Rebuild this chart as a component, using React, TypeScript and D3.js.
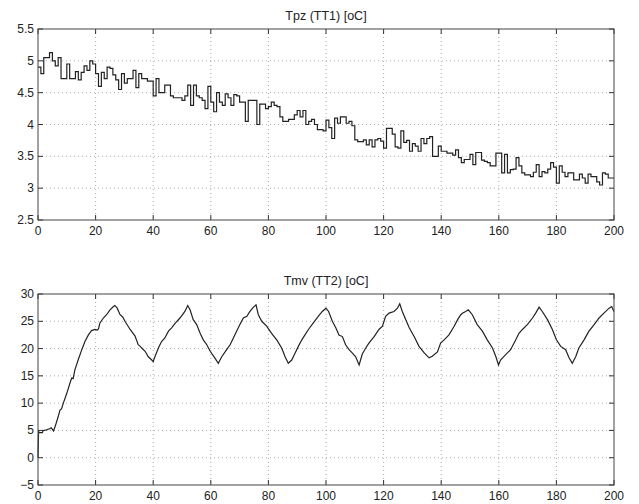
import React from "react";
import * as d3 from "d3";

// Tpz (TT1): step level held for each second, t = 0..199
const tpzLevels = [
  4.9, 4.8, 5.05, 5.05, 5.13, 5.0, 4.92, 5.05, 4.72, 4.72,
  4.95, 4.72, 4.72, 4.83, 4.7, 4.82, 4.92, 4.85, 5.0, 4.95,
  4.8, 4.6, 4.82, 4.72, 4.9, 4.88, 4.78, 4.7, 4.55, 4.8,
  4.65, 4.72, 4.72, 4.85, 4.58, 4.8, 4.72, 4.72, 4.68, 4.68,
  4.45, 4.72, 4.5, 4.5, 4.62, 4.62, 4.45, 4.42, 4.42, 4.42,
  4.38, 4.45, 4.62, 4.3, 4.62, 4.45, 4.42, 4.38, 4.25, 4.6,
  4.35, 4.2, 4.5, 4.35, 4.3, 4.48, 4.42, 4.3, 4.47, 4.45,
  4.35, 4.35, 4.05, 4.38, 4.38, 4.38, 4.0, 4.32, 4.32, 4.25,
  4.28, 4.35, 4.3, 4.28, 4.12, 4.05, 4.05, 4.08, 4.08, 4.15,
  4.22, 4.12, 4.22, 4.0, 4.05, 4.08, 4.0, 3.92, 3.92, 3.9,
  4.07, 3.95, 3.78, 4.1, 4.02, 4.12, 4.12, 4.02, 4.05, 3.98,
  3.76, 3.73, 3.73, 3.76, 3.68, 3.76, 3.65, 3.76, 3.78, 3.74,
  3.63, 3.94, 3.94, 3.85, 3.65, 3.63, 3.9, 3.72, 3.75, 3.58,
  3.7, 3.66, 3.58, 3.78, 3.7, 3.78, 3.81, 3.5, 3.5, 3.66,
  3.58, 3.58, 3.55, 3.55, 3.52, 3.6, 3.48, 3.4, 3.45, 3.45,
  3.53, 3.37, 3.56, 3.56, 3.44, 3.42, 3.4, 3.35, 3.35, 3.55,
  3.55, 3.24, 3.53, 3.24, 3.29, 3.3, 3.48, 3.35, 3.24, 3.21,
  3.21, 3.18, 3.25, 3.37, 3.18, 3.26, 3.24, 3.3, 3.4, 3.33,
  3.08, 3.35, 3.25, 3.18, 3.24, 3.24, 3.13, 3.13, 3.22, 3.16,
  3.08, 3.22, 3.18, 3.18, 3.1, 3.05, 3.24, 3.22, 3.16, 3.16,
];

// Tmv (TT2): read points [time, value]
const tmvPoints: [number, number][] = [
  [0, 0], [0.2, 4.8], [0.6, 4.6], [1.5, 4.6], [1.8, 5.0], [3, 5.1], [4, 5.3], [4.6, 5.5],
  [5, 5.2], [5.4, 4.9], [6, 5.8], [7, 7.5], [7.6, 8.7], [8.2, 9.0], [8.8, 10], [10, 11.8],
  [11.1, 13.7], [11.7, 14.6], [12.2, 14.5], [12.8, 16.1], [14, 18], [15.2, 19.8], [16.3, 21.3],
  [17.5, 22.5], [18.6, 23.3], [19.8, 23.5], [20.5, 23.4], [21, 23.6], [21.5, 24.7], [22.7, 25.6],
  [23.8, 26.2], [25, 27.1], [26.2, 27.7], [26.7, 27.9], [27.5, 27.4], [28.5, 26.2], [29.4, 25.8],
  [30.2, 25], [32, 23.5], [33.7, 22.3], [34.8, 20.7], [35.5, 20.4], [36, 20.1], [37.2, 19.5],
  [38.3, 18.5], [39.5, 17.9], [40, 17.6], [40.6, 18.5], [41.8, 20.1], [42.9, 21.3], [44, 21.9],
  [45.3, 23.2], [46.4, 23.8], [47.6, 24.6], [49.3, 25.6], [51, 26.8], [52, 27.9], [52.8, 27.1],
  [53.9, 25.3], [55.1, 24.4], [56.3, 22.8], [57.4, 21.6], [58.6, 20.7], [59.8, 19.5], [61.5, 18.2],
  [62.6, 17.3], [63.8, 18.5], [65.5, 19.8], [66.7, 20.7], [67.8, 21.9], [69, 23.2], [70.1, 24.4],
  [71.3, 25.6], [72.5, 25.9], [73.6, 26.8], [74.8, 27.6], [75.7, 28.0], [76.5, 26.2], [77.7, 25],
  [79.4, 24.1], [81.1, 22.8], [82.9, 21.6], [84.6, 20.1], [85.8, 18.5], [86.9, 17.3], [88.1, 17.9],
  [89.2, 19.1], [90.4, 20.4], [91.6, 21.6], [92.7, 22.5], [93.9, 23.5], [95.6, 24.7], [97.3, 25.9],
  [98.7, 26.8], [100, 27.4], [100.9, 26.8], [102.2, 25], [103.4, 23.8], [104.5, 22.5], [105.7, 22.2],
  [106.8, 20.7], [108, 19.8], [109.1, 19.2], [110.3, 18.5], [111.5, 17.0], [112.6, 19.0], [113.8, 20.1],
  [114.9, 21], [116.7, 22.2], [118.4, 23.5], [119.6, 24.1], [120.7, 25.9], [121.9, 26.5], [123.6, 26.8],
  [124.8, 27.4], [125.6, 28.2], [126.5, 26.8], [127.7, 25.3], [128.9, 23.8], [130.6, 22.2], [132.3, 20.4],
  [134.1, 19.2], [135.8, 18.3], [136.9, 18.6], [138.7, 19.4], [139.8, 21], [141, 21.6], [142.7, 22.5],
  [144.5, 24.1], [145.7, 25.3], [146.8, 26.2], [147.5, 26.5], [148.5, 26.8], [149.4, 27.1], [150.8, 26.2],
  [152.5, 24.4], [154.3, 23.2], [156, 21.6], [157.8, 20.1], [159, 18.5], [159.9, 17.0], [160.6, 17.9],
  [162.4, 18.9], [164.1, 19.8], [165.9, 21.6], [167, 22.8], [168.2, 23.5], [169.9, 24.4], [171.7, 25.6],
  [172.8, 26.5], [174, 27.6], [175.1, 26.8], [176.9, 25.3], [178.6, 23.5], [180, 21.6], [181.5, 20.4],
  [183.2, 19.8], [184.4, 18.3], [185.5, 17.3], [186.7, 18.5], [187.8, 20.1], [189.6, 21.6], [191.3, 23.2],
  [193.1, 24.4], [194.8, 25.6], [196.5, 26.5], [198.3, 27.4], [199.2, 27.7], [200, 26.8],
];

const xTicks = [0, 20, 40, 60, 80, 100, 120, 140, 160, 180, 200];
const tpzTicks = [2.5, 3, 3.5, 4, 4.5, 5, 5.5];
const tmvTicks = [-5, 0, 5, 10, 15, 20, 25, 30];

const W = 639;
const H = 504;
const left = 38;
const right = 614;
const font = "'Liberation Sans', Arial, sans-serif";

type PanelProps = {
  title: string;
  top: number;
  bottom: number;
  yDomain: [number, number];
  yTicks: number[];
  points: [number, number][];
  step: boolean;
};

const Panel = ({ title, top, bottom, yDomain, yTicks, points, step }: PanelProps) => {
  const x = d3.scaleLinear().domain([0, 200]).range([left, right]);
  const y = d3.scaleLinear().domain(yDomain).range([bottom, top]);
  const line = d3
    .line<[number, number]>()
    .x((d) => x(d[0]))
    .y((d) => y(d[1]))
    .curve(step ? d3.curveStepAfter : d3.curveLinear);
  const tick = 5;
  const fmt = (v: number) => (v < 0 ? "\u2212" + Math.abs(v) : String(v));

  return (
    <g>
      <text x={(left + right) / 2} y={top - 9} textAnchor="middle" fontSize={12.5} fontFamily={font} fill="#222">
        {title}
      </text>
      {/* grid */}
      {xTicks.slice(1, -1).map((t) => (
        <line key={"gx" + t} x1={x(t)} x2={x(t)} y1={top} y2={bottom} stroke="#999" strokeWidth={0.8} strokeDasharray="1,3" />
      ))}
      {yTicks.slice(1, -1).map((t) => (
        <line key={"gy" + t} x1={left} x2={right} y1={y(t)} y2={y(t)} stroke="#999" strokeWidth={0.8} strokeDasharray="1,3" />
      ))}
      {/* ticks, inward on all sides */}
      {xTicks.map((t) => (
        <g key={"tx" + t}>
          <line x1={x(t)} x2={x(t)} y1={bottom} y2={bottom - tick} stroke="#333" />
          <line x1={x(t)} x2={x(t)} y1={top} y2={top + tick} stroke="#333" />
          <text x={x(t)} y={bottom + 15} textAnchor="middle" fontSize={12} fontFamily={font} fill="#222">
            {t}
          </text>
        </g>
      ))}
      {yTicks.map((t) => (
        <g key={"ty" + t}>
          <line x1={left} x2={left + tick} y1={y(t)} y2={y(t)} stroke="#333" />
          <line x1={right} x2={right - tick} y1={y(t)} y2={y(t)} stroke="#333" />
          <text x={left - 4} y={y(t) + 4} textAnchor="end" fontSize={12} fontFamily={font} fill="#222">
            {fmt(t)}
          </text>
        </g>
      ))}
      <path d={line(points) ?? ""} fill="none" stroke="#222" strokeWidth={1.2} />
      <rect x={left} y={top} width={right - left} height={bottom - top} fill="none" stroke="#444" strokeWidth={1} />
    </g>
  );
};

const App = () => {
  const tpzPoints: [number, number][] = tpzLevels.map((v, i) => [i, v] as [number, number]);
  tpzPoints.push([200, tpzLevels[tpzLevels.length - 1]]);

  return (
    <svg width={W} height={H} style={{ position: "absolute", left: 0, top: 0, background: "#fff" }}>
      <rect width={W} height={H} fill="#fff" />
      <Panel title="Tpz (TT1) [oC]" top={29} bottom={220} yDomain={[2.5, 5.5]} yTicks={tpzTicks} points={tpzPoints} step />
      <Panel title="Tmv (TT2) [oC]" top={294} bottom={485} yDomain={[-5, 30]} yTicks={tmvTicks} points={tmvPoints} step={false} />
    </svg>
  );
};

export default App;
